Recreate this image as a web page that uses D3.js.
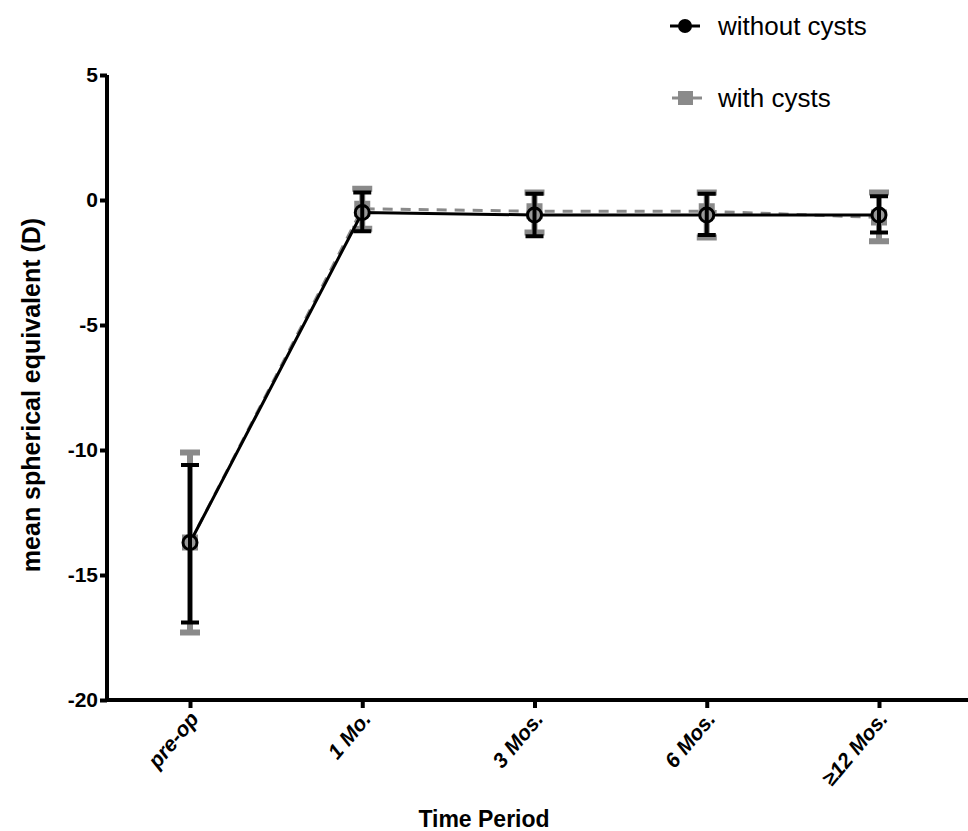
<!DOCTYPE html>
<meta charset="utf-8">
<style>
body { margin: 0; background: #fff; }
text { font-family: "Liberation Sans", Arial, sans-serif; }
</style>
<body>
<svg id="graph"></svg>
<script src="https://d3js.org/d3.v7.min.js"></script>
<script>
// categories
var periods = ["pre-op", "1 Mo.", "3 Mos.", "6 Mos.", "\u226512 Mos."];
var yTicks = [5, 0, -5, -10, -15, -20];

// without cysts: mean, upper, lower
var noCystMean = [-13.7, -0.5, -0.6, -0.6, -0.6];
var noCystHi   = [-10.6, 0.3, 0.25, 0.25, 0.15];
var noCystLo   = [-16.9, -1.25, -1.45, -1.4, -1.3];

// with cysts
var cystMean = [-13.7, -0.35, -0.45, -0.45, -0.7];
var cystHi   = [-10.1, 0.45, 0.3, 0.3, 0.3];
var cystLo   = [-17.3, -1.15, -1.3, -1.5, -1.65];

var W = 968, H = 831;
var plotLeft = 107, plotTop = 75, plotBottom = 700;

var svg = d3.select("#graph").attr("width", W).attr("height", H);

var x = d3.scalePoint().domain(periods).range([190, 879]);
var y = d3.scaleLinear().domain([-20, 5]).range([plotBottom, plotTop]);

function rows(mean, hi, lo) {
  return periods.map(function(p, i) { return {p: p, m: mean[i], hi: hi[i], lo: lo[i]}; });
}
var noCyst = rows(noCystMean, noCystHi, noCystLo);
var cyst = rows(cystMean, cystHi, cystLo);

var line = d3.line()
    .x(function(d) { return x(d.p); })
    .y(function(d) { return y(d.m); });

// with cysts (gray) drawn first
var gray = "#8a8a8a";
svg.append("path").datum(cyst)
    .attr("d", line).attr("fill", "none")
    .attr("stroke", gray).attr("stroke-width", 3)
    .attr("stroke-dasharray", "10,8");

var g1 = svg.selectAll(".ebc").data(cyst).enter().append("g");
g1.append("line")
    .attr("x1", function(d) { return x(d.p); }).attr("x2", function(d) { return x(d.p); })
    .attr("y1", function(d) { return y(d.hi); }).attr("y2", function(d) { return y(d.lo); })
    .attr("stroke", gray).attr("stroke-width", 6);
["hi", "lo"].forEach(function(k) {
  g1.append("line")
      .attr("x1", function(d) { return x(d.p) - 10; }).attr("x2", function(d) { return x(d.p) + 10; })
      .attr("y1", function(d) { return y(d[k]); }).attr("y2", function(d) { return y(d[k]); })
      .attr("stroke", gray).attr("stroke-width", 6);
});
g1.append("rect")
    .attr("x", function(d) { return x(d.p) - 8; })
    .attr("y", function(d) { return y(d.m) - 8; })
    .attr("width", 16).attr("height", 16)
    .attr("fill", gray);

// without cysts (black)
svg.append("path").datum(noCyst)
    .attr("d", line).attr("fill", "none")
    .attr("stroke", "#000").attr("stroke-width", 3);

var g2 = svg.selectAll(".ebn").data(noCyst).enter().append("g");
g2.append("circle")
    .attr("cx", function(d) { return x(d.p); })
    .attr("cy", function(d) { return y(d.m); })
    .attr("r", 7).attr("fill", "#999").attr("stroke", "#000").attr("stroke-width", 3);
g2.append("line")
    .attr("x1", function(d) { return x(d.p); }).attr("x2", function(d) { return x(d.p); })
    .attr("y1", function(d) { return y(d.hi); }).attr("y2", function(d) { return y(d.lo); })
    .attr("stroke", "#000").attr("stroke-width", 4);
["hi", "lo"].forEach(function(k) {
  g2.append("line")
      .attr("x1", function(d) { return x(d.p) - 9; }).attr("x2", function(d) { return x(d.p) + 9; })
      .attr("y1", function(d) { return y(d[k]); }).attr("y2", function(d) { return y(d[k]); })
      .attr("stroke", "#000").attr("stroke-width", 4);
});

// Y axis
var yAxis = svg.append("g")
    .attr("transform", "translate(" + plotLeft + ",0)")
    .call(d3.axisLeft(y).tickValues(yTicks).tickSize(7).tickFormat(function(d) { return String(d); }));
yAxis.select(".domain").attr("stroke-width", 4).attr("d", "M0," + plotTop + "V" + plotBottom);
yAxis.selectAll(".tick line").attr("stroke-width", 4);
yAxis.selectAll(".tick text")
    .attr("font-size", 21).attr("font-weight", "bold").attr("x", -9)
    .style("font-family", "Liberation Sans, Arial, sans-serif");

// X axis
var xAxis = svg.append("g")
    .attr("transform", "translate(0," + plotBottom + ")")
    .call(d3.axisBottom(x).tickSize(8));
xAxis.select(".domain").attr("stroke-width", 4).attr("d", "M" + (plotLeft - 2) + ",0H" + W);
xAxis.selectAll(".tick line").attr("stroke-width", 4);
xAxis.selectAll(".tick text")
    .attr("font-size", 21).attr("font-weight", "bold").attr("font-style", "italic")
    .style("font-family", "Liberation Sans, Arial, sans-serif")
    .attr("text-anchor", "end")
    .attr("transform", "translate(-2,10) rotate(-50)")
    .attr("x", 0).attr("y", 0).attr("dy", "0.7em");

// axis titles
svg.append("text")
    .attr("transform", "translate(40,395) rotate(-90)")
    .attr("text-anchor", "middle")
    .attr("font-size", 25).attr("font-weight", "bold")
    .text("mean spherical equivalent (D)");

svg.append("text")
    .attr("x", 484).attr("y", 827)
    .attr("text-anchor", "middle")
    .attr("font-size", 23).attr("font-weight", "bold")
    .text("Time Period");

// legend
var legend = [
  {name: "without cysts", y: 26},
  {name: "with cysts", y: 98}
];
legend.forEach(function(l, i) {
  var g = svg.append("g").attr("transform", "translate(0," + l.y + ")");
  if (i === 0) {
    g.append("line").attr("x1", 670).attr("x2", 700).attr("stroke", "#000").attr("stroke-width", 3);
    g.append("circle").attr("cx", 685).attr("r", 7).attr("fill", "#000");
  } else {
    g.append("line").attr("x1", 672).attr("x2", 702).attr("stroke", gray).attr("stroke-width", 3);
    g.append("rect").attr("x", 678).attr("y", -7).attr("width", 15).attr("height", 14).attr("fill", gray);
  }
  g.append("text").attr("x", 718).attr("dy", "0.35em")
      .attr("font-size", 26).text(l.name);
});
</script>
</body>
